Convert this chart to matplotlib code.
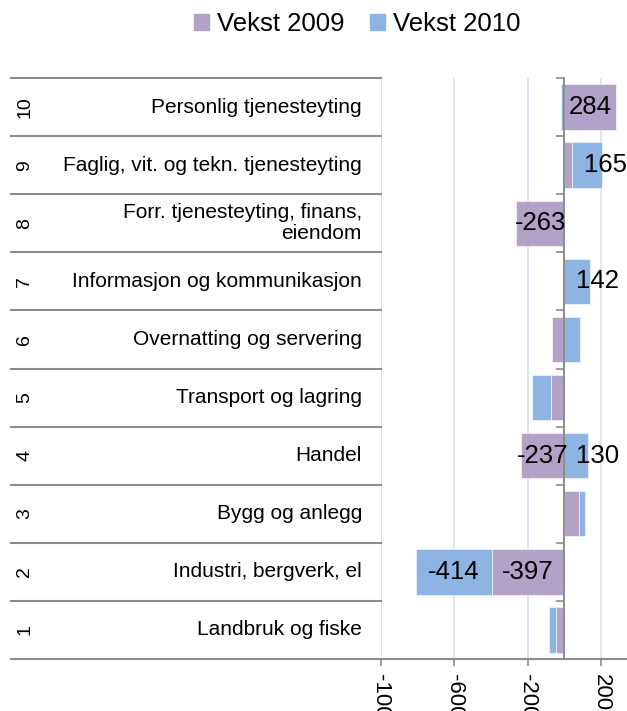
import matplotlib
matplotlib.use('Agg')
import matplotlib.pyplot as plt
import matplotlib.transforms as mtransforms
from matplotlib.patches import Patch
import numpy as np

plt.rcParams['font.family'] = ['Liberation Sans', 'DejaVu Sans']

# data, row 1 at the bottom
numbers = ['1', '2', '3', '4', '5', '6', '7', '8', '9', '10']
categories = ['Landbruk og fiske', 'Industri, bergverk, el', 'Bygg og anlegg',
              'Handel', 'Transport og lagring', 'Overnatting og servering',
              'Informasjon og kommunikasjon', 'Forr. tjenesteyting, finans,\neiendom',
              'Faglig, vit. og tekn. tjenesteyting', 'Personlig tjenesteyting']
vekst_2009 = [-47, -397, 78, -237, -73, -65, 0, -263, 40, 284]
vekst_2010 = [-38, -414, 35, 130, -104, 84, 142, 0, 165, -20]
xticks = [-1000, -600, -200, 200]

c09 = '#B3A2C7'
c10 = '#8EB4E3'
grey = '#8C8C8C'
W, H = 627, 711

fig = plt.figure(figsize=(W / 100, H / 100), dpi=100)
ax = fig.add_axes([381 / W, 52 / H, 246 / W, 581 / H])

y = np.arange(len(categories))
v09 = np.array(vekst_2009)
v10 = np.array(vekst_2010)
left10 = np.where(np.sign(v10) == np.sign(v09), v09, 0)

ax.barh(y, v09, height=0.78, color=c09, edgecolor='white', linewidth=0.4, zorder=3)
ax.barh(y, v10, left=left10, height=0.78, color=c10, edgecolor='white', linewidth=0.4, zorder=3)

# data labels for the larger values
for i in range(len(y)):
    if abs(v09[i]) >= 120:
        ax.text(v09[i] / 2, y[i], str(v09[i]), ha='center', va='center', fontsize=18.5, zorder=5)
    if abs(v10[i]) >= 120:
        if v10[i] > 0:
            ax.text(left10[i] + 65, y[i], str(v10[i]), ha='left', va='center', fontsize=18.5, zorder=5)
        else:
            ax.text(left10[i] + v10[i] / 2, y[i], str(v10[i]), ha='center', va='center', fontsize=18.5, zorder=5)

ax.set_xlim(-1000, 342)
ax.set_ylim(-0.5, len(y) - 0.5)

ax.set_xticks(xticks)
ax.set_xticklabels([str(t) for t in xticks], rotation=-90, fontsize=16)
ax.xaxis.grid(True, color='#D6E2F1', linewidth=1.2, zorder=0)
ax.set_axisbelow(True)
ax.tick_params(axis='x', direction='out', length=5, width=1.2, color=grey, pad=6)

ax.set_yticks(np.arange(-0.5, len(y), 1))
ax.set_yticklabels([])
ax.tick_params(axis='y', direction='out', length=6, width=1.2, color=grey)

for s in ['top', 'right']:
    ax.spines[s].set_visible(False)
ax.spines['left'].set_position(('data', 0))
ax.spines['left'].set_color(grey)
ax.spines['left'].set_linewidth(1.4)
ax.spines['left'].set_zorder(4)
ax.spines['bottom'].set_color(grey)
ax.spines['bottom'].set_linewidth(1.5)

# category table on the left
trans = mtransforms.blended_transform_factory(ax.transAxes, ax.transData)
x_start = (11 - 381) / 246
for b in np.arange(-0.5, len(y), 1):
    ax.plot([x_start, 0], [b, b], color=grey, linewidth=1.5, transform=trans, clip_on=False)

for i in range(len(y)):
    ax.text((362 - 381) / 246, y[i], categories[i], transform=trans, ha='right', va='center',
            multialignment='right', fontsize=15, linespacing=1.1)
    ax.text((25 - 381) / 246, y[i], numbers[i], transform=trans, ha='center', va='center',
            rotation=90, fontsize=14)

handles = [Patch(color=c09, label='Vekst 2009'), Patch(color=c10, label='Vekst 2010')]
fig.legend(handles=handles, loc='center', bbox_to_anchor=(357 / W, 1 - 24 / H), ncol=2,
           frameon=False, fontsize=18.5, handlelength=0.6, handleheight=0.6,
           handletextpad=0.3, columnspacing=1.0)

fig.savefig('out.png', dpi=100)
